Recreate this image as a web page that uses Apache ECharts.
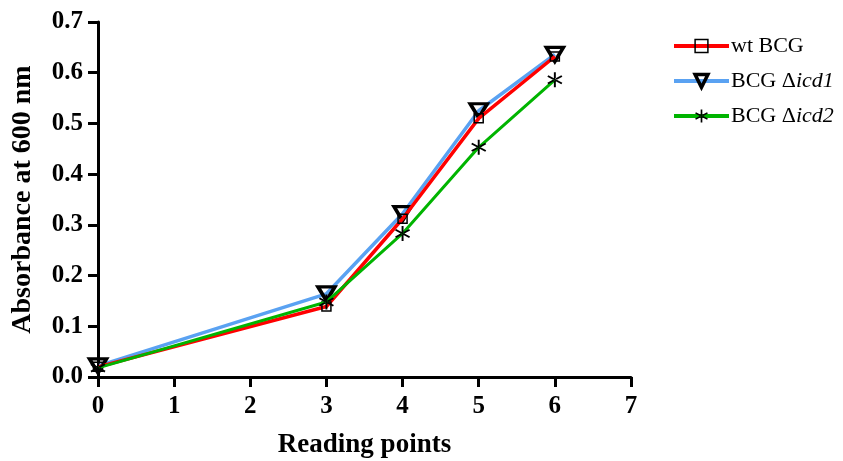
<!DOCTYPE html>
<html>
<head>
<meta charset="utf-8">
<script src="https://cdn.jsdelivr.net/npm/echarts@6/dist/echarts.min.js"></script>
<style>
  html, body { margin: 0; padding: 0; background: #fff; }
  #chart { width: 843px; height: 461px; }
</style>
</head>
<body>
<div id="chart"></div>
<script>
// Reading points (x) and optical density at 600 nm for each strain
const readingPoints = [0, 3, 4, 5, 6];
const wtBCG   = [0.020, 0.139, 0.312, 0.510, 0.632];
const bcgIcd1 = [0.022, 0.164, 0.322, 0.525, 0.636];
const bcgIcd2 = [0.018, 0.148, 0.283, 0.453, 0.586];
const xTicks = [0, 1, 2, 3, 4, 5, 6, 7];
const seriesNames = ['wt BCG', 'BCG Δicd1', 'BCG Δicd2'];

// Six-armed asterisk built from three thin bars
const asteriskPath = 'path://M44 0 L56 0 L56 100 L44 100 Z ' +
  'M3.7 30.2 L9.7 19.8 L96.3 69.8 L90.3 80.2 Z ' +
  'M3.7 69.8 L9.7 80.2 L96.3 30.2 L90.3 19.8 Z';

const FONT = '"Liberation Serif", "Times New Roman", serif';

function pairs(ys) { return readingPoints.map((x, i) => [x, ys[i]]); }

const chart = echarts.init(document.getElementById('chart'), null, { renderer: 'canvas' });

chart.setOption({
  backgroundColor: '#ffffff',
  animation: false,
  grid: { left: 98, right: 212, top: 22, bottom: 84, containLabel: false, outerBoundsMode: 'none' },
  legend: {
    orient: 'vertical',
    left: 667,
    top: 30,
    itemWidth: 55,
    itemHeight: 16,
    itemGap: 13,
    data: [
      { name: seriesNames[0], itemStyle: { borderWidth: 1.5 }, lineStyle: { width: 4 } },
      { name: seriesNames[1], itemStyle: { borderWidth: 3.5 }, lineStyle: { width: 4 } },
      { name: seriesNames[2], lineStyle: { width: 4 } }
    ],
    textStyle: {
      fontFamily: FONT, fontSize: 22, color: '#000', padding: [0, 0, 0, -3],
      rich: {
        n: { fontFamily: FONT, fontSize: 22, color: '#000' },
        i: { fontFamily: FONT, fontSize: 22, color: '#000', fontStyle: 'italic' }
      }
    },
    formatter: function (name) {
      const m = name.match(/^(.*Δ)(.*)$/);
      return m ? '{n|' + m[1] + '}{i|' + m[2] + '}' : '{n|' + name + '}';
    }
  },
  xAxis: {
    type: 'value',
    min: 0, max: 7, interval: 1,
    name: 'Reading points',
    nameLocation: 'middle',
    nameGap: 55,
    nameTextStyle: { fontFamily: FONT, fontSize: 27, fontWeight: 'bold', color: '#000' },
    axisLine: { show: true, lineStyle: { color: '#000', width: 3 } },
    axisTick: { show: true, inside: false, length: 10, lineStyle: { color: '#000', width: 3 } },
    axisLabel: {
      margin: 17, fontFamily: FONT, fontSize: 25, fontWeight: 'bold', color: '#000',
      formatter: function (v) { return xTicks.indexOf(v) >= 0 ? String(v) : ''; }
    },
    splitLine: { show: false }
  },
  yAxis: {
    type: 'value',
    min: 0, max: 0.7, interval: 0.1,
    name: 'Absorbance at 600 nm',
    nameLocation: 'middle',
    nameGap: 61,
    nameRotate: 90,
    nameTextStyle: { fontFamily: FONT, fontSize: 28, fontWeight: 'bold', color: '#000' },
    axisLine: { show: true, lineStyle: { color: '#000', width: 3 } },
    axisTick: { show: true, inside: false, length: 10, lineStyle: { color: '#000', width: 3 } },
    axisLabel: {
      margin: 15, fontFamily: FONT, fontSize: 25, fontWeight: 'bold', color: '#000',
      formatter: function (v) { return v.toFixed(1); }
    },
    splitLine: { show: false }
  },
  series: [
    {
      name: seriesNames[0],
      type: 'line',
      data: pairs(wtBCG),
      z: 3,
      symbol: 'rect',
      symbolSize: 9,
      lineStyle: { color: '#ff0000', width: 3.5 },
      itemStyle: { color: 'rgba(0,0,0,0)', borderColor: '#000', borderWidth: 1.5 }
    },
    {
      name: seriesNames[1],
      type: 'line',
      data: pairs(bcgIcd1),
      z: 2,
      symbol: 'triangle',
      symbolRotate: 180,
      symbolSize: [17, 14],
      lineStyle: { color: '#5aa2f2', width: 3.5 },
      itemStyle: { color: 'rgba(0,0,0,0)', borderColor: '#000', borderWidth: 3.5 }
    },
    {
      name: seriesNames[2],
      type: 'line',
      data: pairs(bcgIcd2),
      z: 4,
      symbol: asteriskPath,
      symbolSize: 15,
      lineStyle: { color: '#00b400', width: 3 },
      itemStyle: { color: '#000', borderWidth: 0 }
    }
  ]
});
</script>
</body>
</html>
